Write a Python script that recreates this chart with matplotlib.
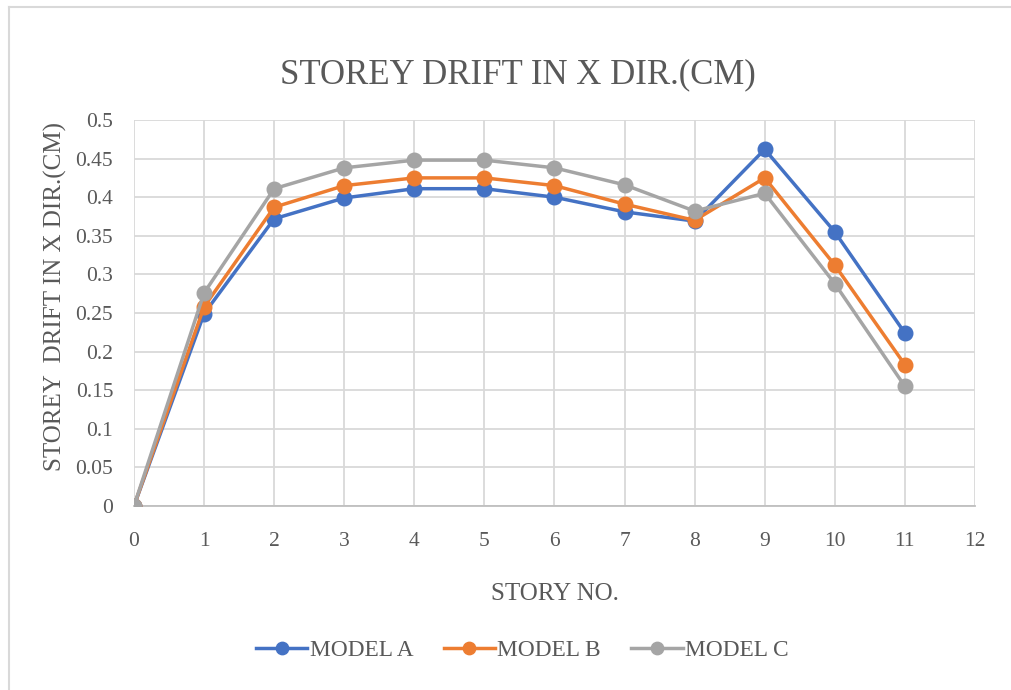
import numpy as np
import matplotlib
matplotlib.use("Agg")
import matplotlib.pyplot as plt
from matplotlib.lines import Line2D

# Data
story = [0, 1, 2, 3, 4, 5, 6, 7, 8, 9, 10, 11]
model_a = [0, 0.249, 0.372, 0.399, 0.411, 0.411, 0.400, 0.381, 0.369, 0.462, 0.355, 0.224]
model_b = [0, 0.258, 0.387, 0.415, 0.425, 0.425, 0.415, 0.391, 0.370, 0.425, 0.312, 0.183]
model_c = [0, 0.276, 0.411, 0.438, 0.448, 0.448, 0.438, 0.416, 0.382, 0.405, 0.288, 0.155]
labels = ["MODEL A", "MODEL B", "MODEL C"]
colors = ["#4472C4", "#ED7D31", "#A5A5A5"]

plt.rcParams["font.family"] = ["Liberation Serif", "DejaVu Serif"]
txt = "#595959"

fig = plt.figure(figsize=(10.12, 6.9), dpi=100)
ax = fig.add_axes([0.1324, 0.2667, 0.831, 0.5594])

for ys, lab, c in zip([model_a, model_b, model_c], labels, colors):
    ax.plot(story, ys, color=c, lw=2.5, marker="o", ms=10.5, label=lab, zorder=3)

ax.set_xlim(0, 12)
ax.set_ylim(0, 0.5)
ax.set_xticks(range(0, 13))
ax.set_yticks(np.arange(0, 0.51, 0.05))
ax.set_yticklabels(["0", "0.05", "0.1", "0.15", "0.2", "0.25", "0.3", "0.35",
                    "0.4", "0.45", "0.5"])
ax.grid(True, color="#D9D9D9", lw=1.3)
ax.set_axisbelow(True)
for s in ["top", "right", "left"]:
    ax.spines[s].set_visible(False)
ax.spines["bottom"].set_color("#BFBFBF")
ax.spines["bottom"].set_linewidth(1.3)
ax.tick_params(length=0, labelsize=15.5, labelcolor=txt)
ax.tick_params(axis="y", pad=15)
ax.tick_params(axis="x", pad=19)

ax.set_xlabel("STORY NO.", fontsize=18, color=txt, labelpad=23)
ax.set_ylabel("STOREY  DRIFT IN X DIR.(CM)", fontsize=18, color=txt)
ax.yaxis.set_label_coords(-0.080, 0.544)
fig.text(0.512, 0.892, "STOREY DRIFT IN X DIR.(CM)", fontsize=25, color=txt,
         ha="center", va="center")

fig.legend(loc="center", bbox_to_anchor=(0.516, 0.057), ncol=3, frameon=False,
           fontsize=16.8, labelcolor=txt, handlelength=2.2, columnspacing=1.3,
           handletextpad=0.1, markerscale=0.85)

# chart border (left and top edges visible in the reference)
fig.add_artist(Line2D([0.009, 0.009], [0.0, 0.99], color="#D9D9D9", lw=1.5,
                      transform=fig.transFigure))
fig.add_artist(Line2D([0.009, 1.0], [0.99, 0.99], color="#D9D9D9", lw=1.5,
                      transform=fig.transFigure))

fig.savefig("out.png", dpi=100)
